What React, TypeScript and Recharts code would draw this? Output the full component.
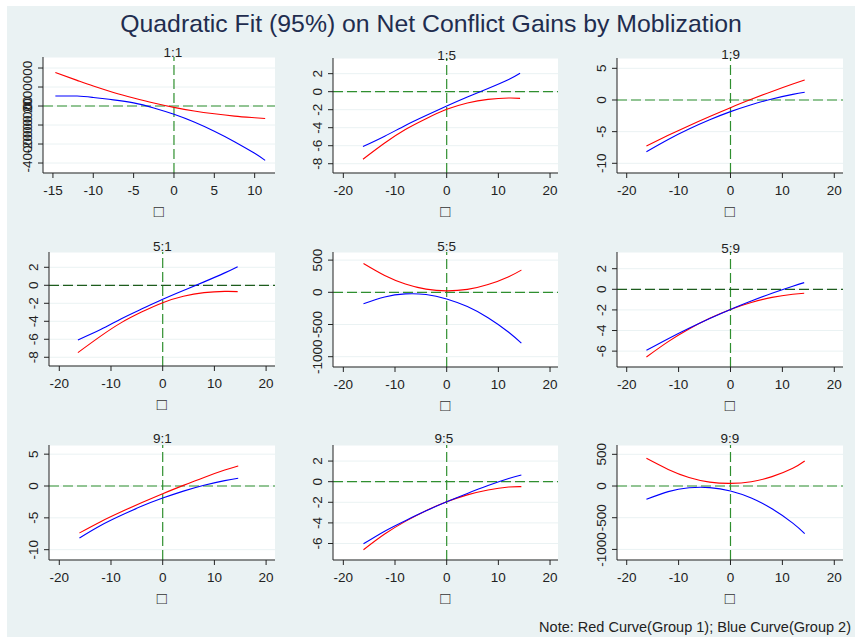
import React from 'react';
import { LineChart, Line, XAxis, YAxis, CartesianGrid, ReferenceLine } from 'recharts';

const FONT = '"Liberation Sans", Arial, Helvetica, sans-serif';
const BG = '#eaf2f3';
const INK = '#222';
const GREEN = '#2f8f2f';
const DARK_GREEN = '#1d5c1d';

const chartTitle = 'Quadratic Fit (95%) on Net Conflict Gains by Moblization';
const note = 'Note: Red Curve(Group 1); Blue Curve(Group 2)';
const xLabel = '\u25A1';

// 1:1
const x11 = [-14.7, -12, -10, -7.5, -5, -2.5, 0, 2.5, 5, 7.5, 10, 11.3];
const red11 = [3520000, 2700000, 2100000, 1430000, 850000, 320000, -140000, -520000, -820000, -1060000, -1230000, -1320000];
const blue11 = [1050000, 1050000, 900000, 650000, 330000, -200000, -870000, -1680000, -2650000, -3750000, -4980000, -5720000];

// 1:5
const x15 = [-16.2, -12, -8, -4, 0, 4, 8, 12, 14.2];
const red15 = [-7.5, -5.7, -4.2, -3.0, -1.96, -1.25, -0.85, -0.7, -0.74];
const blue15 = [-6.1, -4.95, -3.75, -2.65, -1.6, -0.6, 0.35, 1.35, 2.04];

// 1:9
const x19 = [-16.2, -12, -8, -4, 0, 4, 8, 12, 14.3];
const red19 = [-7.26, -5.58, -4.05, -2.6, -1.21, 0.1, 1.35, 2.52, 3.16];
const blue19 = [-8.16, -6.23, -4.58, -3.12, -1.84, -0.75, 0.16, 0.88, 1.21];

// 5:1
const x51 = [-16.4, -12, -8, -4, 0, 4, 8, 12, 14.5];
const red51 = [-7.48, -5.65, -4.15, -2.95, -1.93, -1.22, -0.82, -0.68, -0.7];
const blue51 = [-6.07, -4.92, -3.72, -2.62, -1.56, -0.58, 0.38, 1.38, 2.07];

// 5:5
const x55 = [-16.1, -12, -8, -4, 0, 4, 8, 12, 14.45];
const red55 = [448, 262, 130, 50, 22, 45, 120, 243, 345];
const blue55 = [-178, -72, -25, -35, -103, -222, -395, -620, -790];

// 5:9
const x59 = [-16.2, -12, -8, -4, 0, 4, 8, 12, 14.2];
const red59 = [-6.57, -5.08, -3.85, -2.81, -1.95, -1.28, -0.78, -0.48, -0.39];
const blue59 = [-5.92, -4.79, -3.78, -2.83, -1.95, -1.14, -0.38, 0.3, 0.65];

// 9:1
const x91 = [-16.1, -12, -8, -4, 0, 4, 8, 12, 14.6];
const red91 = [-7.37, -5.6, -4.05, -2.6, -1.21, 0.1, 1.35, 2.5, 3.16];
const blue91 = [-8.16, -6.2, -4.6, -3.15, -1.9, -0.8, 0.12, 0.85, 1.21];

// 9:5
const x95 = [-16.1, -12, -8, -4, 0, 4, 8, 12, 14.45];
const red95 = [-6.6, -5.08, -3.85, -2.81, -1.95, -1.28, -0.8, -0.52, -0.48];
const blue95 = [-6.03, -4.8, -3.78, -2.83, -1.95, -1.14, -0.38, 0.3, 0.65];

// 9:9
const x99 = [-16.2, -12, -8, -4, 0, 4, 8, 12, 14.3];
const red99 = [437, 262, 135, 62, 42, 68, 148, 280, 395];
const blue99 = [-210, -88, -28, -25, -79, -190, -360, -585, -750];

// tick labels
const xTicks11 = [-15, -10, -5, 0, 5, 10];
const xTicksWide = [-20, -10, 0, 10, 20];
const yTicks11 = [-6000000, -4000000, -2000000, 0, 2000000, 4000000];
const yUnlabeled11 = [-6000000, 4000000];
const yTicks8 = [-8, -6, -4, -2, 0, 2];
const yTicks10 = [-10, -5, 0, 5];
const yTicks1000 = [-1000, -500, 0, 500];
const yTicks6 = [-6, -4, -2, 0, 2];

const panels = [
  { title: '1:1', tx: 173, ty: 57, box: { x: 43, y: 57, w: 232, h: 116 }, xd: [-16.23, 12.52], xt: xTicks11, yd: [-7050000, 5160000], yt: yTicks11, skip: yUnlabeled11, xs: x11, red: red11, blue: blue11, zero: GREEN },
  { title: '1:5', tx: 446.7, ty: 60, box: { x: 333, y: 58, w: 225, h: 115 }, xd: [-22, 21.54], xt: xTicksWide, yd: [-9.03, 3.74], yt: yTicks8, skip: [], xs: x15, red: red15, blue: blue15, zero: GREEN },
  { title: '1:9', tx: 730.7, ty: 58.5, box: { x: 617, y: 58, w: 226, h: 115 }, xd: [-21.87, 21.68], xt: xTicksWide, yd: [-11.53, 6.63], yt: yTicks10, skip: [], xs: x19, red: red19, blue: blue19, zero: GREEN },
  { title: '5:1', tx: 162.3, ty: 250.5, box: { x: 49, y: 252, w: 226, h: 114 }, xd: [-21.99, 21.72], xt: xTicksWide, yd: [-8.97, 3.7], yt: yTicks8, skip: [], xs: x51, red: red51, blue: blue51, zero: DARK_GREEN },
  { title: '5:5', tx: 446.7, ty: 250.5, box: { x: 333, y: 252, w: 225, h: 115 }, xd: [-22, 21.54], xt: xTicksWide, yd: [-1160, 626], yt: yTicks1000, skip: [], xs: x55, red: red55, blue: blue55, zero: GREEN },
  { title: '5:9', tx: 730.7, ty: 252.5, box: { x: 617, y: 252, w: 226, h: 115 }, xd: [-21.87, 21.68], xt: xTicksWide, yd: [-7.54, 3.62], yt: yTicks6, skip: [], xs: x59, red: red59, blue: blue59, zero: DARK_GREEN },
  { title: '9:1', tx: 162.3, ty: 443, box: { x: 49, y: 445, w: 226, h: 115 }, xd: [-21.99, 21.72], xt: xTicksWide, yd: [-11.62, 6.44], yt: yTicks10, skip: [], xs: x91, red: red91, blue: blue91, zero: GREEN },
  { title: '9:5', tx: 444, ty: 442.5, box: { x: 333, y: 445, w: 225, h: 115 }, xd: [-22, 21.54], xt: xTicksWide, yd: [-7.6, 3.56], yt: yTicks6, skip: [], xs: x95, red: red95, blue: blue95, zero: GREEN },
  { title: '9:9', tx: 730, ty: 443, box: { x: 617, y: 445, w: 226, h: 115 }, xd: [-21.87, 21.68], xt: xTicksWide, yd: [-1167, 647], yt: yTicks1000, skip: [], xs: x99, red: red99, blue: blue99, zero: GREEN },
];

const YW = 40;
const MT = 20;
const MR = 8;
const XH = 30;

const YTick = (props: any) => {
  const { x, y, payload, skip } = props;
  if (skip.includes(payload.value)) return <g />;
  return (
    <text x={x} y={y} transform={`rotate(-90 ${x} ${y})`} textAnchor="middle" fontSize={13.5} fill={INK} fontFamily={FONT}>
      {payload.value}
    </text>
  );
};

const Panel = ({ p }: { p: (typeof panels)[number] }) => {
  const data = p.xs.map((x, i) => ({ x, red: p.red[i], blue: p.blue[i] }));
  const { box } = p;
  return (
    <div style={{ position: 'absolute', left: box.x - YW, top: box.y - MT }}>
      <LineChart width={YW + box.w + MR} height={MT + box.h + XH} data={data} margin={{ top: MT, right: MR, bottom: 0, left: 0 }}>
        <CartesianGrid fill="#ffffff" stroke={BG} vertical={false} />
        <XAxis
          type="number"
          dataKey="x"
          domain={p.xd}
          ticks={p.xt}
          interval={0}
          allowDataOverflow
          height={XH}
          tickSize={5}
          tickMargin={7}
          stroke={INK}
          tick={{ fontSize: 13.5, fill: INK, fontFamily: FONT }}
        />
        <YAxis
          type="number"
          domain={p.yd}
          ticks={p.yt}
          interval={0}
          allowDataOverflow
          width={YW}
          tickSize={5}
          tickMargin={6}
          stroke={INK}
          tick={(tp: any) => <YTick {...tp} skip={p.skip} />}
        />
        <ReferenceLine x={0} stroke={GREEN} strokeDasharray="10 4" strokeWidth={1.2} />
        <ReferenceLine y={0} stroke={p.zero} strokeDasharray="10 4" strokeWidth={1.2} />
        <Line dataKey="red" type="natural" stroke="#ff0000" strokeWidth={1.1} dot={false} isAnimationActive={false} />
        <Line dataKey="blue" type="natural" stroke="#0000ff" strokeWidth={1.1} dot={false} isAnimationActive={false} />
      </LineChart>
    </div>
  );
};

export default function App() {
  return (
    <div style={{ position: 'absolute', left: 0, top: 0, width: 855, height: 640, background: '#fff', overflow: 'hidden', fontFamily: FONT }}>
      <div style={{ position: 'absolute', left: 7, top: 6, width: 848, height: 631, background: BG }} />
      {panels.map((p) => (
        <Panel key={p.title} p={p} />
      ))}
      <svg width={855} height={640} style={{ position: 'absolute', left: 0, top: 0, pointerEvents: 'none' }}>
        <text x={431} y={32} textAnchor="middle" fontSize={24.8} fill="#1f2d4f" fontFamily={FONT}>
          {chartTitle}
        </text>
        {panels.map((p) => (
          <g key={p.title}>
            <text x={p.tx} y={p.ty} textAnchor="middle" fontSize={13.5} fill={INK} fontFamily={FONT}>
              {p.title}
            </text>
            <text x={p.box.x + p.box.w / 2} y={p.box.y + p.box.h + 44} textAnchor="middle" fontSize={17} fill="#333" fontFamily={FONT}>
              {xLabel}
            </text>
          </g>
        ))}
        <text x={851} y={632} textAnchor="end" fontSize={14.5} fill={INK} fontFamily={FONT}>
          {note}
        </text>
      </svg>
    </div>
  );
}
